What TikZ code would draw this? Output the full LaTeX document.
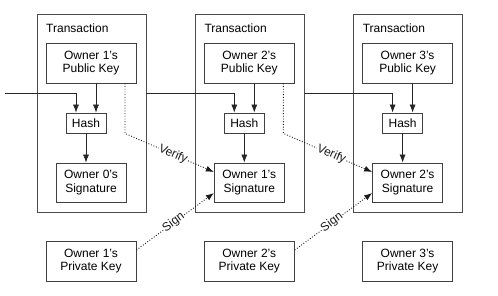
\documentclass[tikz,border=0pt]{standalone}
\usepackage{fontspec}
\setmainfont{Liberation Sans}
\usetikzlibrary{arrows.meta}
\begin{document}
\begin{tikzpicture}[x=1pt,y=-1pt,
  txt/.style={font=\fontsize{12}{13.5}\selectfont},
  box/.style={txt, draw=black!75, line width=0.8pt, inner sep=0pt, align=center},
  txbox/.style={draw=black!70, line width=0.8pt, inner sep=0pt, minimum width=109pt, minimum height=198pt},
  arr/.style={black!85, line width=0.7pt, -{Latex[length=8pt,width=6pt]}},
  dotarr/.style={black!90, line width=0.9pt, dash pattern=on 0.9pt off 1.8pt, -{Latex[length=8pt,width=6pt]}},
  lbl/.style={txt, fill=white, inner sep=0.5pt, sloped}]
\useasboundingbox (0,0) rectangle (498,295);
\fill[white] (0,0) rectangle (498,295);
\coordinate (in0) at (5,93);
\foreach \i/\n in {0/1,1/2,2/3}{
  \pgfmathsetmacro\ox{158.3*\i}
  \node[txbox] (tx\i) at (91.5+\ox,113) {};
  \node[txt, anchor=west, inner sep=0pt] (tl\i) at (46+\ox,28) {Transaction};
  \node[box, minimum width=90pt, minimum height=40pt] (pub\i) at (91+\ox,63) {Owner \n's\\Public Key};
  \node[box, minimum width=40pt, minimum height=20pt] (hash\i) at (86+\ox,123) {Hash};
  \node[box, minimum width=70pt, minimum height=39pt] (sig\i) at (91+\ox,182.5) {Owner \i's\\Signature};
  \node[box, minimum width=90pt, minimum height=40pt] (priv\i) at (91+\ox,261) {Owner \n's\\Private Key};
  \draw[arr] ([xshift=5pt]pub\i.south) -- ([xshift=10pt]hash\i.north);
  \draw[arr] (hash\i.south) -- (hash\i.south |- sig\i.north);
}
\draw[arr] (in0) -| ([xshift=-10pt]hash0.north);
\draw[arr] (tx0.east |- in0) -| ([xshift=-10pt]hash1.north);
\draw[arr] (tx1.east |- in0) -| ([xshift=-10pt]hash2.north);
\foreach \i/\j in {0/1,1/2}{
  \draw[dotarr] ([xshift=34pt]pub\i.south) -- ([xshift=34pt]pub\i.south |- hash\i.south)
     -- node[lbl, pos=0.54]{Verify} ([yshift=10.5pt]sig\j.west);
  \draw[dotarr] ([yshift=11pt]priv\i.east) -- node[lbl, pos=0.48]{Sign} ([yshift=-10.5pt]sig\j.west);
}
\end{tikzpicture}
\end{document}
